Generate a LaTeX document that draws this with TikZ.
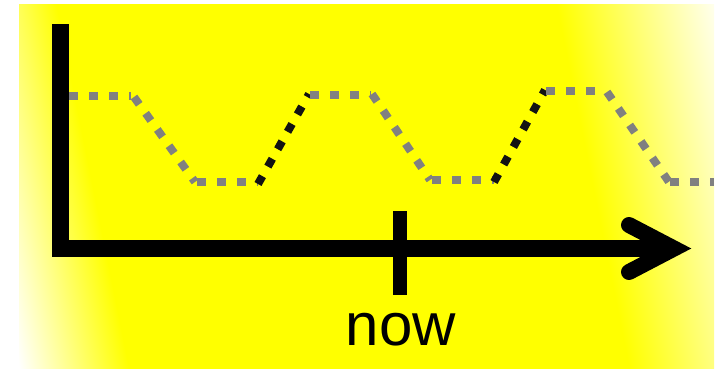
\documentclass[tikz,border=0pt]{standalone}
\usepackage{fontspec}
\setmainfont{Liberation Sans}
\pgfdeclarefunctionalshading{bgfade}{\pgfpointorigin}{\pgfpoint{100bp}{100bp}}{}{
  25 sub 1.456 mul exch 25 sub 13.9 mul add
  dup 110 div 1 exch sub
  exch 610 sub 170 div
  2 copy add 3 1 roll sub abs add 2 div
  dup abs add 2 div
  dup 1 sub abs neg 1 add add 2 div
  1 1 3 -1 roll
}
\begin{document}
\begin{tikzpicture}[x=1pt,y=-1pt,
  axis/.style={line width=16.5pt,black,line cap=butt},
  gdots/.style={line width=8pt,color=gray,dash pattern=on 9pt off 11pt},
  bdots/.style={line width=8pt,color=black!93,dash pattern=on 9pt off 11pt}]
\useasboundingbox (0,0) rectangle (721,370);
% background
\shade[shading=bgfade] (19,4) rectangle (714,368);
% coordinates
\coordinate (vt) at (60.5,24);
\coordinate (vb) at (60.5,257);
\coordinate (hl) at (52,248.5);
\coordinate (tip) at (674,248.5);
\coordinate (hu) at (629,225);
\coordinate (hd) at (629,272);
\coordinate (tt) at (400,211);
\coordinate (tb) at (400,295);
% axes
\draw[axis] (vt) -- (vb);
\draw[axis] (hl) -- (tip);
\draw[line width=16pt,line cap=round,line join=miter] (hu) -- (tip) -- (hd);
\draw[line width=14pt] (tt) -- (tb);
\node[anchor=base,font=\fontsize{60}{60}\selectfont,inner sep=0pt] (now) at (401,345) {now};
% dotted curve
\coordinate (a1) at (69,96);   \coordinate (a2) at (131,96);
\coordinate (b1) at (134,97);  \coordinate (b2) at (195,182);
\coordinate (c1) at (197,182); \coordinate (c2) at (258,182);
\coordinate (d1) at (258,184); \coordinate (d2) at (309,94);
\coordinate (e1) at (310,95);  \coordinate (e2) at (371,95);
\coordinate (f1) at (372,94);  \coordinate (f2) at (430,180);
\coordinate (g1) at (432,180); \coordinate (g2) at (494,180);
\coordinate (h1) at (494,182); \coordinate (h2) at (545,90);
\coordinate (i1) at (546,91);  \coordinate (i2) at (606,91);
\coordinate (j1) at (607,92);  \coordinate (j2) at (669,182);
\coordinate (k1) at (670,182); \coordinate (k2) at (714,182);
\draw[gdots] (a1) -- (a2);
\draw[gdots] (b1) -- (b2);
\draw[gdots] (c1) -- (c2);
\draw[bdots] (d1) -- (d2);
\draw[gdots] (e1) -- (e2);
\draw[gdots] (f1) -- (f2);
\draw[gdots] (g1) -- (g2);
\draw[bdots] (h1) -- (h2);
\draw[gdots] (i1) -- (i2);
\draw[gdots] (j1) -- (j2);
\draw[gdots] (k1) -- (k2);
\end{tikzpicture}
\end{document}
